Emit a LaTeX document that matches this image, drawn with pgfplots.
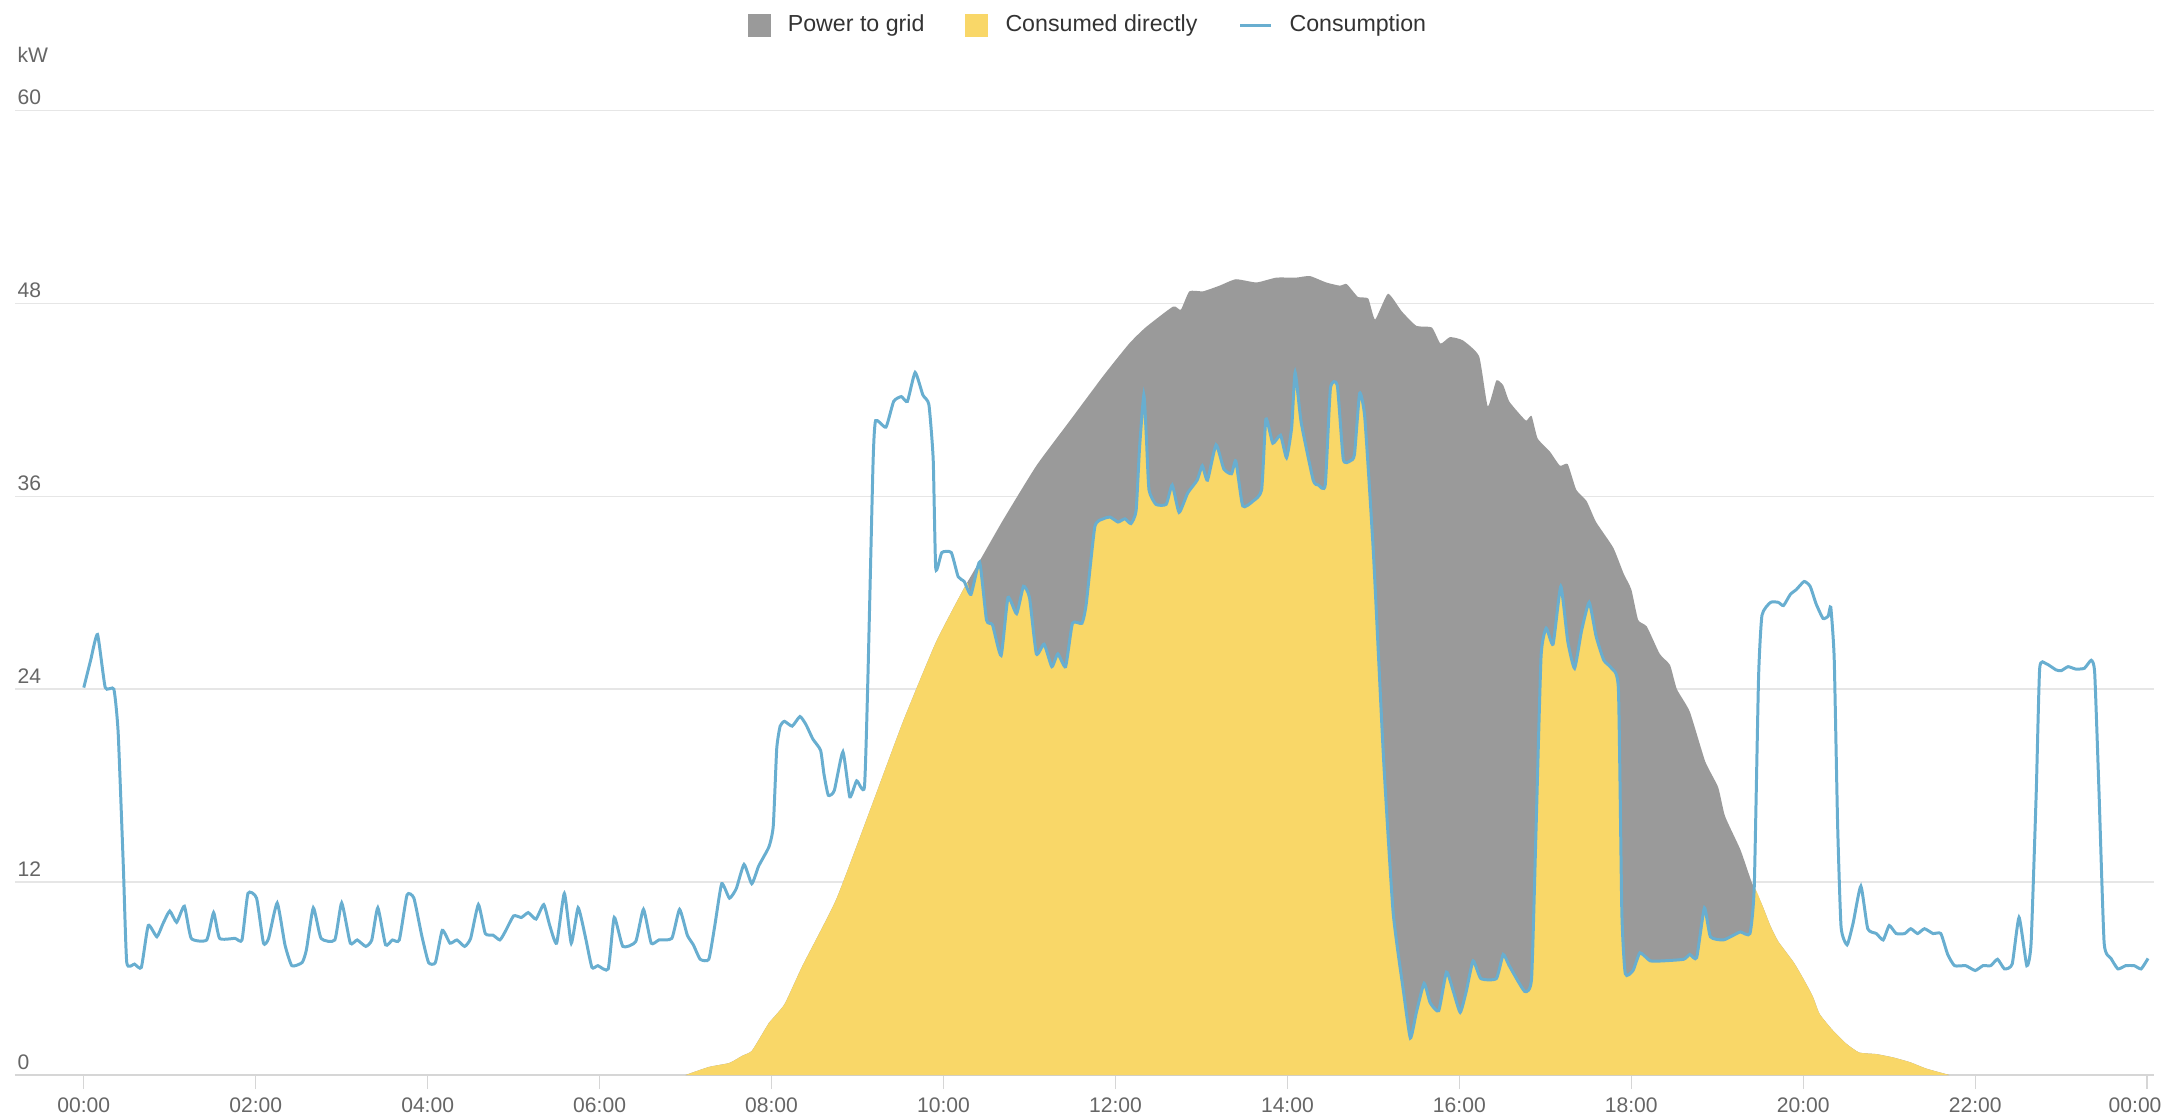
\documentclass[border=0pt]{standalone}
\usepackage{pgfplots}
\usepackage{pgfplotstable}
\pgfplotsset{compat=1.18}
\usepackage{fontspec}
\setmainfont{Liberation Sans}

\definecolor{gridgrey}{HTML}{E6E6E6}
\definecolor{axisgrey}{HTML}{D6D6D6}
\definecolor{gridfill}{HTML}{9A9A9A}
\definecolor{sunyellow}{HTML}{F9D768}
\definecolor{consblue}{HTML}{68AED0}
\definecolor{labelgrey}{HTML}{666666}
\definecolor{textgrey}{HTML}{333333}

% PV production (top of the grey area), kW
\pgfplotstableread{
t P
7.00 0
7.27 0.5
7.51 0.75
7.66 1.2
7.77 1.5
7.93 2.9
7.97 3.25
8.15 4.4
8.36 6.8
8.75 10.9
9.14 16.4
9.53 22.0
9.91 26.9
10.23 30.2
10.38 31.6
10.69 34.5
11.08 37.9
11.47 40.7
11.86 43.5
12.16 45.5
12.35 46.5
12.67 47.8
12.76 47.6
12.86 48.75
13.02 48.75
13.21 49.1
13.40 49.5
13.64 49.3
13.87 49.6
14.10 49.6
14.26 49.7
14.45 49.3
14.61 49.1
14.69 49.2
14.82 48.4
14.94 48.3
15.02 47.0
15.17 48.6
15.33 47.5
15.50 46.6
15.68 46.5
15.78 45.5
15.89 45.9
16.04 45.7
16.23 44.7
16.33 41.6
16.43 43.2
16.51 42.9
16.58 41.9
16.72 41.0
16.78 40.7
16.84 41.0
16.91 39.6
17.05 38.8
17.17 37.9
17.26 38.0
17.36 36.4
17.48 35.7
17.59 34.4
17.79 32.8
17.91 31.2
18.00 30.2
18.08 28.3
18.18 27.9
18.33 26.2
18.45 25.5
18.53 24.0
18.68 22.6
18.86 19.5
19.01 17.9
19.09 16.1
19.27 14.0
19.40 12.0
19.52 10.6
19.62 9.25
19.71 8.3
19.89 7.0
20.00 6.0
20.11 4.9
20.19 3.8
20.34 2.8
20.50 1.95
20.65 1.4
20.85 1.3
21.04 1.1
21.24 0.8
21.43 0.4
21.70 0
}\production

% consumed directly (yellow)
\pgfplotstableread{
t D
7.00 0
7.27 0.5
7.51 0.75
7.66 1.2
7.77 1.5
7.93 2.9
7.97 3.25
8.15 4.4
8.36 6.8
8.75 10.9
9.14 16.4
9.53 22.0
9.91 26.9
10.23 30.2
10.28 30.6
10.32 29.9
10.42 31.9
10.50 28.3
10.57 28.0
10.67 26.1
10.75 29.7
10.85 28.7
10.93 30.4
11.00 29.7
11.08 26.2
11.17 26.8
11.26 25.4
11.33 26.2
11.42 25.4
11.50 28.1
11.61 28.1
11.66 29.3
11.76 34.1
11.86 34.6
11.94 34.7
12.03 34.4
12.11 34.6
12.18 34.3
12.24 35.1
12.28 39.0
12.33 42.3
12.36 39.6
12.39 36.4
12.47 35.5
12.59 35.5
12.66 36.7
12.74 35.0
12.84 36.2
12.95 37.0
13.01 37.9
13.07 37.0
13.17 39.2
13.26 37.7
13.35 37.4
13.40 38.2
13.48 35.4
13.60 35.7
13.70 36.4
13.75 40.8
13.83 39.3
13.92 39.8
13.99 38.4
14.05 40.3
14.09 43.7
14.16 40.6
14.30 37.0
14.36 36.7
14.44 36.7
14.50 42.7
14.58 42.9
14.65 38.3
14.73 38.2
14.78 38.6
14.84 42.4
14.90 40.9
15.00 32.5
15.12 19.5
15.23 10.1
15.35 5.2
15.43 2.3
15.50 3.9
15.59 5.7
15.66 4.5
15.76 4.0
15.85 6.4
15.93 5.2
16.01 3.9
16.08 5.2
16.16 7.1
16.25 6.0
16.43 6.0
16.51 7.5
16.58 6.8
16.76 5.2
16.84 6.0
16.89 14.9
16.95 26.0
17.01 27.8
17.09 26.8
17.18 30.4
17.26 27.0
17.34 25.3
17.42 27.6
17.51 29.4
17.59 27.3
17.68 25.8
17.77 25.3
17.85 24.0
17.89 10.1
17.93 6.3
18.02 6.5
18.10 7.6
18.22 7.1
18.37 7.1
18.61 7.2
18.68 7.5
18.76 7.3
18.85 10.4
18.92 8.6
19.07 8.4
19.19 8.7
19.27 8.9
19.38 8.8
19.43 11.6
19.52 10.6
19.62 9.25
19.71 8.3
19.89 7.0
20.00 6.0
20.11 4.9
20.19 3.8
20.34 2.8
20.50 1.95
20.65 1.4
20.85 1.3
21.04 1.1
21.24 0.8
21.43 0.4
21.70 0
}\direct

% consumption (blue line)
\pgfplotstableread{
t C
0.00 24.1
0.08 25.8
0.16 27.4
0.25 24.1
0.35 24.0
0.40 21.3
0.46 13.0
0.50 7.0
0.59 6.9
0.67 6.7
0.75 9.3
0.85 8.6
0.92 9.4
1.00 10.2
1.08 9.5
1.17 10.5
1.25 8.5
1.43 8.4
1.51 10.1
1.58 8.5
1.76 8.5
1.84 8.4
1.91 11.3
2.01 11.0
2.09 8.2
2.15 8.5
2.25 10.7
2.34 8.1
2.42 6.8
2.54 7.0
2.59 7.8
2.67 10.4
2.76 8.5
2.92 8.4
3.00 10.7
3.10 8.2
3.18 8.4
3.28 8.0
3.35 8.4
3.42 10.4
3.51 8.1
3.59 8.4
3.67 8.4
3.76 11.2
3.84 11.0
3.93 8.7
4.01 7.0
4.09 7.0
4.17 9.0
4.26 8.2
4.34 8.4
4.43 8.0
4.50 8.5
4.59 10.6
4.67 8.8
4.76 8.7
4.84 8.4
4.90 8.9
5.00 9.9
5.09 9.8
5.17 10.1
5.26 9.7
5.35 10.6
5.42 9.3
5.50 8.2
5.59 11.3
5.67 8.2
5.75 10.4
5.83 8.7
5.91 6.7
5.98 6.8
6.10 6.6
6.17 9.8
6.27 8.0
6.42 8.3
6.51 10.3
6.60 8.2
6.69 8.4
6.84 8.5
6.93 10.3
7.02 8.7
7.09 8.1
7.17 7.2
7.27 7.2
7.34 9.3
7.42 11.9
7.51 11.0
7.59 11.6
7.68 13.1
7.77 11.9
7.85 13.0
7.97 14.2
8.02 15.5
8.06 20.3
8.10 21.7
8.15 22.0
8.24 21.7
8.33 22.3
8.40 21.8
8.48 20.9
8.57 20.2
8.61 18.7
8.66 17.4
8.73 17.7
8.83 20.1
8.91 17.3
8.99 18.3
9.08 17.9
9.12 24.6
9.18 38.0
9.21 40.7
9.33 40.3
9.42 41.9
9.51 42.2
9.58 41.9
9.67 43.7
9.76 42.3
9.83 41.7
9.88 38.3
9.91 31.5
9.98 32.5
10.09 32.5
10.17 31.0
10.24 30.7
10.32 29.9
10.42 31.9
10.50 28.3
10.57 28.0
10.67 26.1
10.75 29.7
10.85 28.7
10.93 30.4
11.00 29.7
11.08 26.2
11.17 26.8
11.26 25.4
11.33 26.2
11.42 25.4
11.50 28.1
11.61 28.1
11.66 29.3
11.76 34.1
11.86 34.6
11.94 34.7
12.03 34.4
12.11 34.6
12.18 34.3
12.24 35.1
12.28 39.0
12.33 42.3
12.36 39.6
12.39 36.4
12.47 35.5
12.59 35.5
12.66 36.7
12.74 35.0
12.84 36.2
12.95 37.0
13.01 37.9
13.07 37.0
13.17 39.2
13.26 37.7
13.35 37.4
13.40 38.2
13.48 35.4
13.60 35.7
13.70 36.4
13.75 40.8
13.83 39.3
13.92 39.8
13.99 38.4
14.05 40.3
14.09 43.7
14.16 40.6
14.30 37.0
14.36 36.7
14.44 36.7
14.50 42.7
14.58 42.9
14.65 38.3
14.73 38.2
14.78 38.6
14.84 42.4
14.90 40.9
15.00 32.5
15.12 19.5
15.23 10.1
15.35 5.2
15.43 2.3
15.50 3.9
15.59 5.7
15.66 4.5
15.76 4.0
15.85 6.4
15.93 5.2
16.01 3.9
16.08 5.2
16.16 7.1
16.25 6.0
16.43 6.0
16.51 7.5
16.58 6.8
16.76 5.2
16.84 6.0
16.89 14.9
16.95 26.0
17.01 27.8
17.09 26.8
17.18 30.4
17.26 27.0
17.34 25.3
17.42 27.6
17.51 29.4
17.59 27.3
17.68 25.8
17.77 25.3
17.85 24.0
17.89 10.1
17.93 6.3
18.02 6.5
18.10 7.6
18.22 7.1
18.37 7.1
18.61 7.2
18.68 7.5
18.76 7.3
18.85 10.4
18.92 8.6
19.07 8.4
19.19 8.7
19.27 8.9
19.38 8.8
19.43 11.7
19.48 24.7
19.52 28.6
19.62 29.4
19.71 29.4
19.77 29.2
19.85 29.9
19.92 30.2
20.01 30.7
20.08 30.4
20.15 29.3
20.23 28.4
20.29 28.55
20.32 29.1
20.36 25.9
20.40 15.5
20.44 9.2
20.51 8.1
20.58 9.45
20.67 11.75
20.75 9.1
20.85 8.8
20.93 8.4
21.00 9.3
21.08 8.8
21.18 8.8
21.25 9.1
21.33 8.8
21.41 9.1
21.51 8.8
21.60 8.8
21.68 7.5
21.76 6.8
21.89 6.8
22.00 6.5
22.09 6.8
22.18 6.8
22.26 7.2
22.34 6.6
22.43 6.9
22.51 9.8
22.60 6.8
22.65 8.2
22.71 17.6
22.75 25.3
22.82 25.6
22.94 25.2
23.00 25.15
23.08 25.4
23.17 25.25
23.27 25.3
23.35 25.8
23.39 25.0
23.44 17.6
23.50 8.2
23.58 7.25
23.66 6.6
23.75 6.8
23.85 6.8
23.93 6.6
24.01 7.25
}\consumption

\begin{document}
\begin{tikzpicture}
\useasboundingbox (-0.15,-0.414) rectangle (21.51,10.755);
\begin{axis}[
    scale only axis,
    width=21.40cm, height=9.65cm,
    xmin=-0.80, xmax=24.08,
    ymin=0, ymax=60,
    axis lines*=left,
    axis line style={-},
    x axis line style={draw=axisgrey, line width=0.4pt},
    y axis line style={draw=none},
    xtick={0,2,...,22},
    xticklabels={00:00,02:00,04:00,06:00,08:00,10:00,12:00,14:00,16:00,18:00,20:00,22:00},
    extra x ticks={24},
    extra x tick labels={00:00},
    extra x tick style={xticklabel style={anchor=north east, xshift=0.15cm}},
    ytick={0,12,24,36,48,60},
    tick align=outside,
    major tick length=0.14cm,
    xtick style={draw=axisgrey, line width=0.4pt},
    ytick style={draw=none},
    ymajorgrids,
    grid style={gridgrey, line width=0.4pt},
    /pgf/number format/assume math mode=true,
    tick label style={font=\fontsize{6pt}{7pt}\selectfont, text=labelgrey},
    xticklabel style={inner sep=0pt, yshift=-0.08cm},
    yticklabel style={anchor=south west, inner sep=0pt, xshift=0.16cm, yshift=0.05cm},
    ylabel={kW},
    every axis y label/.style={at={(axis description cs:0,1)}, anchor=south west,
        inner sep=0pt, xshift=0.02cm, yshift=0.47cm,
        font=\fontsize{6pt}{7pt}\selectfont, text=labelgrey},
    legend columns=3,
    legend style={at={(0.5,1)}, anchor=center, xshift=0.06cm, yshift=0.85cm,
        draw=none, fill=none,
        font=\fontsize{6.6pt}{8pt}\selectfont, text=textgrey,
        /tikz/every odd column/.append style={column sep=0.1cm},
        /tikz/every even column/.append style={column sep=0.34cm}},
]
\addplot[fill=gridfill, draw=none, smooth, tension=0.3,
    legend image code/.code={\fill[gridfill] (0cm,-0.115cm) rectangle (0.23cm,0.115cm);}]
    table[x=t, y=P] {\production} \closedcycle;
\addlegendentry{Power to grid}
\addplot[fill=sunyellow, draw=none, smooth, tension=0.3,
    legend image code/.code={\fill[sunyellow] (0cm,-0.115cm) rectangle (0.23cm,0.115cm);}]
    table[x=t, y=D] {\direct} \closedcycle;
\addlegendentry{Consumed directly}
\addplot[consblue, line width=0.85pt, smooth, tension=0.3,
    legend image code/.code={\draw[consblue, line width=0.85pt] (0cm,0cm) -- (0.31cm,0cm);}]
    table[x=t, y=C] {\consumption};
\addlegendentry{Consumption}
\end{axis}
\end{tikzpicture}
\end{document}
